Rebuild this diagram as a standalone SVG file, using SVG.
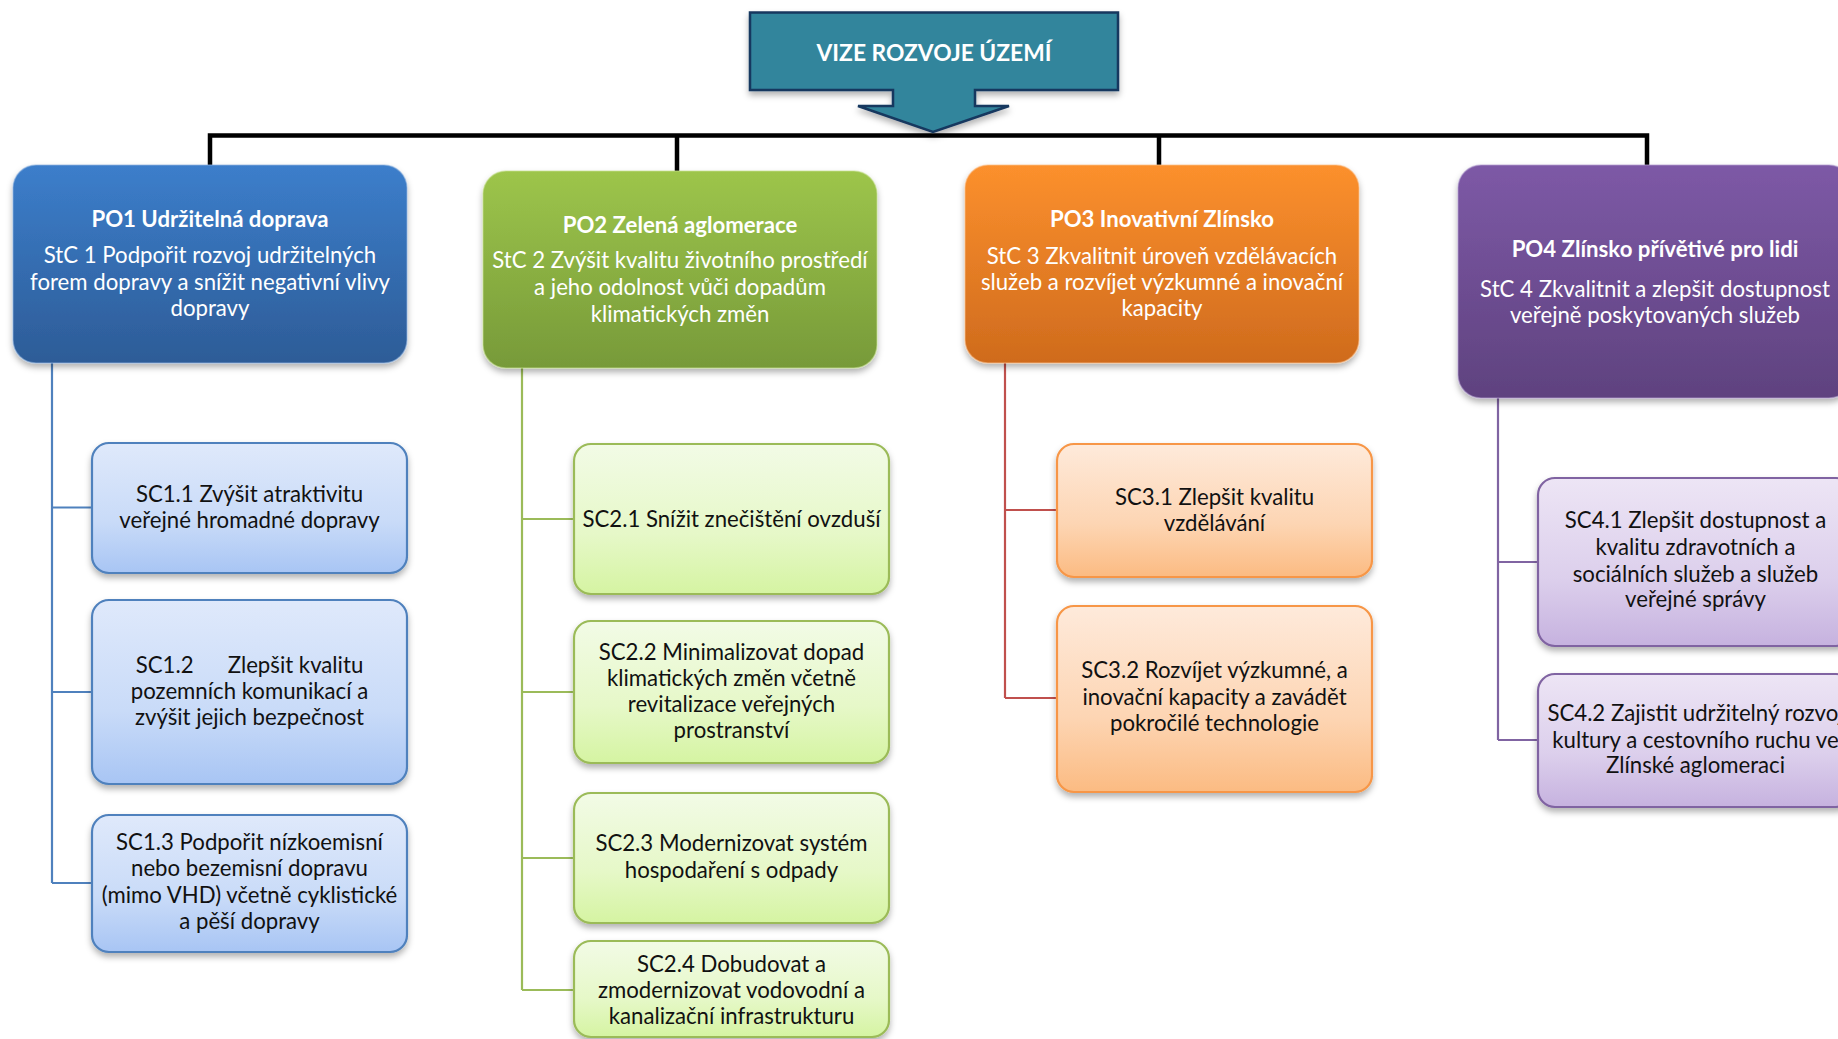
<svg xmlns="http://www.w3.org/2000/svg" width="1838" height="1039" viewBox="0 0 1838 1039">
<defs>
  <linearGradient id="gP1" x1="0" y1="0" x2="0" y2="1"><stop offset="0" stop-color="#3c7ecb"/><stop offset="1" stop-color="#2d5c97"/></linearGradient>
  <linearGradient id="gP2" x1="0" y1="0" x2="0" y2="1"><stop offset="0" stop-color="#9dc54b"/><stop offset="1" stop-color="#779a39"/></linearGradient>
  <linearGradient id="gP3" x1="0" y1="0" x2="0" y2="1"><stop offset="0" stop-color="#fc902d"/><stop offset="1" stop-color="#cf6b1d"/></linearGradient>
  <linearGradient id="gP4" x1="0" y1="0" x2="0" y2="1"><stop offset="0" stop-color="#7d59a6"/><stop offset="1" stop-color="#5f427f"/></linearGradient>
  <linearGradient id="gS1" x1="0" y1="0" x2="0" y2="1"><stop offset="0" stop-color="#dfe9fb"/><stop offset="0.6" stop-color="#c9dbf8"/><stop offset="1" stop-color="#a8c5f4"/></linearGradient>
  <linearGradient id="gS2" x1="0" y1="0" x2="0" y2="1"><stop offset="0" stop-color="#f2fbe6"/><stop offset="0.6" stop-color="#e6f8c8"/><stop offset="1" stop-color="#d5f4a2"/></linearGradient>
  <linearGradient id="gS3" x1="0" y1="0" x2="0" y2="1"><stop offset="0" stop-color="#feeadb"/><stop offset="0.6" stop-color="#fdd5b3"/><stop offset="1" stop-color="#fbbb82"/></linearGradient>
  <linearGradient id="gS4" x1="0" y1="0" x2="0" y2="1"><stop offset="0" stop-color="#ede5f5"/><stop offset="0.6" stop-color="#dccfec"/><stop offset="1" stop-color="#c6b2df"/></linearGradient>
  <filter id="sh" x="-10%" y="-10%" width="120%" height="130%">
    <feDropShadow dx="0" dy="4" stdDeviation="3" flood-color="#000" flood-opacity="0.3"/>
  </filter>
</defs>
<style>
  text{font-family:Lato,"Open Sans","Liberation Sans",sans-serif;text-anchor:middle}
  .vt{font-size:22.8px;font-weight:bold;fill:#fff}
  .pt{font-size:22.2px;font-weight:bold;fill:#fff}
  .pb{font-size:22.2px;fill:#fff}
  .st{font-size:22.2px;fill:#111}
  .po{filter:url(#sh);stroke-width:1.5;stroke-opacity:0.5}
  .sc{filter:url(#sh);stroke-width:2.2}
  .c{fill:none;stroke-width:2.2}
</style>

<g id="connectors">
  <path d="M210,166 V135.5 H1647 V167 M677,135.5 V171 M1159,135.5 V165" fill="none" stroke="#000" stroke-width="4.5"/>
  <path class="c" stroke="#4f81bd" d="M52,363 V883 M52,507.5 H92 M52,692 H92 M52,883 H92"/>
  <path class="c" stroke="#9bbb59" d="M522,368 V990 M522,519 H574 M522,692 H574 M522,858 H574 M522,990 H574"/>
  <path class="c" stroke="#c0504d" d="M1005,363 V698 M1005,510 H1057 M1005,698 H1057"/>
  <path class="c" stroke="#8064a2" d="M1498,398 V740 M1498,562 H1538 M1498,740 H1538"/>
</g>

<g id="vize">
  <path d="M750,12.5 H1118 V90 H975 V106 H1009 L933,132 L858,106 H893 V90 H750 Z" fill="#31859c" stroke="#17375e" stroke-width="2.5" filter="url(#sh)"/>
  <text class="vt" x="934" y="61">VIZE ROZVOJE ÚZEMÍ</text>
</g>

<g id="po1">
  <rect class="po" x="13" y="165" width="394" height="198" rx="23" fill="url(#gP1)" stroke="#8fb3e0"/>
  <text class="pt" x="210" y="227">PO1 Udržitelná doprava</text>
  <text class="pb" x="210" y="263">StC 1 Podpořit rozvoj udržitelných</text>
  <text class="pb" x="210" y="290">forem dopravy a snížit negativní vlivy</text>
  <text class="pb" x="210" y="316">dopravy</text>
</g>
<g id="po2">
  <rect class="po" x="483" y="171" width="394" height="197" rx="23" fill="url(#gP2)" stroke="#c6e08f"/>
  <text class="pt" x="680" y="233">PO2 Zelená aglomerace</text>
  <text class="pb" x="680" y="268">StC 2 Zvýšit kvalitu životního prostředí</text>
  <text class="pb" x="680" y="295">a jeho odolnost vůči dopadům</text>
  <text class="pb" x="680" y="322">klimatických změn</text>
</g>
<g id="po3">
  <rect class="po" x="965" y="165" width="394" height="198" rx="23" fill="url(#gP3)" stroke="#fcc08a"/>
  <text class="pt" x="1162" y="227">PO3 Inovativní Zlínsko</text>
  <text class="pb" x="1162" y="264">StC 3 Zkvalitnit úroveň vzdělávacích</text>
  <text class="pb" x="1162" y="290">služeb a rozvíjet výzkumné a inovační</text>
  <text class="pb" x="1162" y="316">kapacity</text>
</g>
<g id="po4">
  <rect class="po" x="1458" y="165" width="394" height="233" rx="23" fill="url(#gP4)" stroke="#b29dcf"/>
  <text class="pt" x="1655" y="257">PO4 Zlínsko přívětivé pro lidi</text>
  <text class="pb" x="1655" y="297">StC 4 Zkvalitnit a zlepšit dostupnost</text>
  <text class="pb" x="1655" y="323">veřejně poskytovaných služeb</text>
</g>

<g id="sc11">
  <rect class="sc" x="92" y="443" width="315" height="130" rx="17" fill="url(#gS1)" stroke="#4f81bd"/>
  <text class="st" x="249.5" y="502">SC1.1 Zvýšit atraktivitu</text>
  <text class="st" x="249.5" y="528">veřejné hromadné dopravy</text>
</g>
<g id="sc12">
  <rect class="sc" x="92" y="600" width="315" height="184" rx="17" fill="url(#gS1)" stroke="#4f81bd"/>
  <text class="st" x="249.5" y="673" xml:space="preserve">SC1.2      Zlepšit kvalitu</text>
  <text class="st" x="249.5" y="699">pozemních komunikací a</text>
  <text class="st" x="249.5" y="725">zvýšit jejich bezpečnost</text>
</g>
<g id="sc13">
  <rect class="sc" x="92" y="815" width="315" height="137" rx="17" fill="url(#gS1)" stroke="#4f81bd"/>
  <text class="st" x="249.5" y="850">SC1.3 Podpořit nízkoemisní</text>
  <text class="st" x="249.5" y="876">nebo bezemisní dopravu</text>
  <text class="st" x="249.5" y="903">(mimo VHD) včetně cyklistické</text>
  <text class="st" x="249.5" y="929">a pěší dopravy</text>
</g>

<g id="sc21">
  <rect class="sc" x="574" y="444" width="315" height="150" rx="17" fill="url(#gS2)" stroke="#9bbb59"/>
  <text class="st" x="731.5" y="527">SC2.1 Snížit znečištění ovzduší</text>
</g>
<g id="sc22">
  <rect class="sc" x="574" y="621" width="315" height="142" rx="17" fill="url(#gS2)" stroke="#9bbb59"/>
  <text class="st" x="731.5" y="660">SC2.2 Minimalizovat dopad</text>
  <text class="st" x="731.5" y="686">klimatických změn včetně</text>
  <text class="st" x="731.5" y="712">revitalizace veřejných</text>
  <text class="st" x="731.5" y="738">prostranství</text>
</g>
<g id="sc23">
  <rect class="sc" x="574" y="793" width="315" height="130" rx="17" fill="url(#gS2)" stroke="#9bbb59"/>
  <text class="st" x="731.5" y="851">SC2.3 Modernizovat systém</text>
  <text class="st" x="731.5" y="878">hospodaření s odpady</text>
</g>
<g id="sc24">
  <rect class="sc" x="574" y="941" width="315" height="96" rx="17" fill="url(#gS2)" stroke="#9bbb59"/>
  <text class="st" x="731.5" y="972">SC2.4 Dobudovat a</text>
  <text class="st" x="731.5" y="998">zmodernizovat vodovodní a</text>
  <text class="st" x="731.5" y="1024">kanalizační infrastrukturu</text>
</g>

<g id="sc31">
  <rect class="sc" x="1057" y="444" width="315" height="133" rx="17" fill="url(#gS3)" stroke="#f79646"/>
  <text class="st" x="1214.5" y="505">SC3.1 Zlepšit kvalitu</text>
  <text class="st" x="1214.5" y="531">vzdělávání</text>
</g>
<g id="sc32">
  <rect class="sc" x="1057" y="606" width="315" height="186" rx="17" fill="url(#gS3)" stroke="#f79646"/>
  <text class="st" x="1214.5" y="678">SC3.2 Rozvíjet výzkumné, a</text>
  <text class="st" x="1214.5" y="705">inovační kapacity a zavádět</text>
  <text class="st" x="1214.5" y="731">pokročilé technologie</text>
</g>

<g id="sc41">
  <rect class="sc" x="1538" y="478" width="315" height="168" rx="17" fill="url(#gS4)" stroke="#8064a2"/>
  <text class="st" x="1695.5" y="528">SC4.1 Zlepšit dostupnost a</text>
  <text class="st" x="1695.5" y="555">kvalitu zdravotních a</text>
  <text class="st" x="1695.5" y="582">sociálních služeb a služeb</text>
  <text class="st" x="1695.5" y="607">veřejné správy</text>
</g>
<g id="sc42">
  <rect class="sc" x="1538" y="674" width="315" height="133" rx="17" fill="url(#gS4)" stroke="#8064a2"/>
  <text class="st" x="1695.5" y="721">SC4.2 Zajistit udržitelný rozvoj</text>
  <text class="st" x="1695.5" y="748">kultury a cestovního ruchu ve</text>
  <text class="st" x="1695.5" y="773">Zlínské aglomeraci</text>
</g>
</svg>
